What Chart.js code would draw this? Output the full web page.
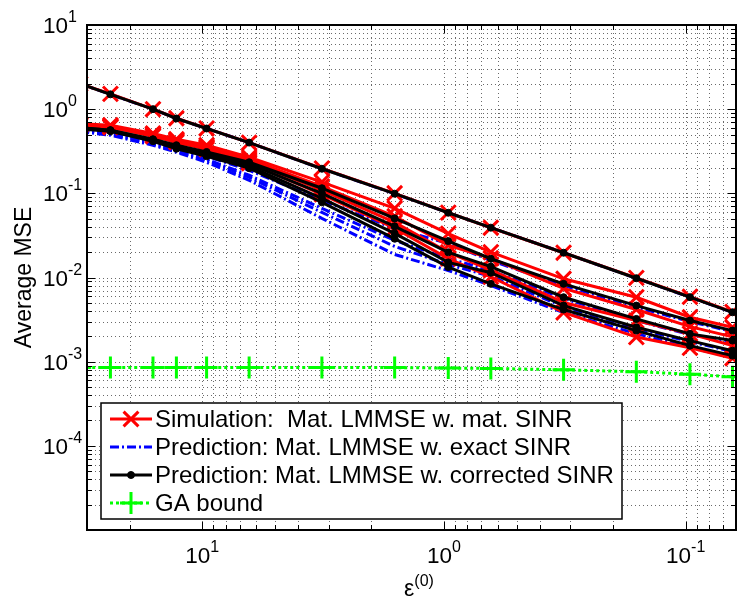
<!DOCTYPE html>
<html>
<head>
<meta charset="utf-8">
<script src="https://cdn.jsdelivr.net/npm/chart.js@4.4.0/dist/chart.umd.min.js"></script>
<style>
  html, body { margin: 0; padding: 0; background: #fff; }
  #wrap { width: 742px; height: 600px; overflow: hidden; }
</style>
</head>
<body>
<div id="wrap"><canvas id="mse-chart" width="750" height="600"></canvas></div>
<script>
// x values (epsilon^(0)), axis runs from large to small; the first one sits just left of the axes
const epsilon0 = [32, 24, 16, 12.8, 9.6, 6.4, 3.2, 1.6, 0.96, 0.64, 0.32, 0.16, 0.096, 0.064];

// Simulation: Mat. LMMSE w. mat. SINR (red)
const simA = [2.0, 1.52, 1.0, 0.78, 0.59, 0.40, 0.198, 0.100, 0.059, 0.039, 0.0197, 0.0099, 0.0059, 0.0039];
const simB = [0.67, 0.645, 0.514, 0.439, 0.373, 0.268, 0.136, 0.0663, 0.0332, 0.0200, 0.00965, 0.00583, 0.00337, 0.00256];
const simC = [0.66, 0.628, 0.504, 0.428, 0.358, 0.254, 0.121, 0.0534, 0.0241, 0.0169, 0.00741, 0.00417, 0.00261, 0.00197];
const simD = [0.65, 0.619, 0.490, 0.416, 0.348, 0.240, 0.109, 0.0451, 0.0199, 0.0122, 0.00505, 0.00308, 0.00215, 0.00155];
const simE = [0.64, 0.611, 0.477, 0.405, 0.334, 0.228, 0.0973, 0.0385, 0.0168, 0.0102, 0.00385, 0.00196, 0.00146, 0.00110];

// Prediction: Mat. LMMSE w. exact SINR (blue)
const exactA = [2.0, 1.5, 1.0, 0.775, 0.589, 0.401, 0.196, 0.099, 0.0588, 0.0391, 0.0197, 0.0098, 0.00584, 0.00386];
const exactB = [0.57, 0.532, 0.405, 0.343, 0.276, 0.188, 0.0825, 0.0383, 0.0254, 0.0159, 0.00803, 0.00443, 0.00299, 0.00228];
const exactC = [0.56, 0.518, 0.394, 0.325, 0.254, 0.164, 0.0663, 0.0276, 0.0168, 0.0121, 0.00562, 0.00308, 0.00210, 0.00173];
const exactD = [0.55, 0.504, 0.383, 0.316, 0.247, 0.155, 0.0594, 0.0234, 0.0143, 0.0103, 0.00452, 0.00247, 0.00173, 0.00132];
const exactE = [0.54, 0.490, 0.373, 0.308, 0.234, 0.143, 0.0504, 0.0188, 0.0121, 0.00803, 0.00383, 0.00215, 0.00147, 0.00112];

// Prediction: Mat. LMMSE w. corrected SINR (black)
const corrA = [2.0, 1.5, 1.0, 0.775, 0.589, 0.401, 0.196, 0.099, 0.0588, 0.0391, 0.0197, 0.0098, 0.00584, 0.00386];
const corrB = [0.60, 0.562, 0.439, 0.373, 0.310, 0.234, 0.115, 0.0504, 0.0271, 0.0167, 0.00841, 0.00464, 0.00308, 0.00234];
const corrC = [0.60, 0.562, 0.434, 0.363, 0.300, 0.222, 0.100, 0.0405, 0.0199, 0.0135, 0.00583, 0.00322, 0.00214, 0.00178];
const corrD = [0.59, 0.555, 0.428, 0.353, 0.287, 0.210, 0.0872, 0.0334, 0.0151, 0.0114, 0.00464, 0.00256, 0.00178, 0.00135];
const corrE = [0.58, 0.547, 0.416, 0.339, 0.276, 0.199, 0.0781, 0.0289, 0.0133, 0.00841, 0.00416, 0.00234, 0.00155, 0.00118];

// GA bound (green)
const gaBound = [8.5e-4, 8.5e-4, 8.5e-4, 8.5e-4, 8.5e-4, 8.5e-4, 8.5e-4, 8.5e-4, 8.4e-4, 8.3e-4, 8.0e-4, 7.6e-4, 7.1e-4, 6.6e-4];

const xTickExponents = [1, 0, -1];
const yTickExponents = [1, 0, -1, -2, -3, -4];
const legendLabels = [
    'Simulation:  Mat. LMMSE w. mat. SINR',
    'Prediction: Mat. LMMSE w. exact SINR',
    'Prediction: Mat. LMMSE w. corrected SINR',
    'GA bound'
];

const FONT = '"Liberation Sans", Arial, Helvetica, sans-serif';
const RED = 'rgb(255, 0, 0)';
const BLUE = 'rgb(0, 0, 255)';
const GREEN = 'rgb(0, 255, 0)';

const toPoints = vals => vals.map((v, i) => ({ x: epsilon0[i], y: v }));

const simStyle = {
    borderColor: RED, borderWidth: 3, pointStyle: 'crossRot', pointRadius: 10.5,
    pointBorderWidth: 3, pointBorderColor: RED, pointBackgroundColor: RED, order: 1
};
const exactStyle = {
    borderColor: BLUE, borderWidth: 3, borderDash: [9, 3, 2, 3], pointRadius: 0, order: 2
};
const corrStyle = {
    borderColor: '#000', borderWidth: 3, pointStyle: 'circle', pointRadius: 3.5,
    pointBorderWidth: 1, pointBorderColor: '#000', pointBackgroundColor: '#000', order: 0
};
const gaStyle = {
    borderColor: GREEN, borderWidth: 3, borderDash: [3, 3], pointStyle: 'cross', pointRadius: 11,
    pointBorderWidth: 3, pointBorderColor: GREEN, order: 3
};

const datasets = [];
[exactA, exactB, exactC, exactD, exactE].forEach(d => datasets.push({ data: toPoints(d), clip: 0, ...exactStyle }));
[simA, simB, simC, simD, simE].forEach(d => datasets.push({ data: toPoints(d), clip: 0, ...simStyle }));
[corrA, corrB, corrC, corrD, corrE].forEach(d => datasets.push({ data: toPoints(d), clip: 0, ...corrStyle }));
datasets.push({ data: toPoints(gaBound), clip: 0, ...gaStyle });

function logSteps(min, max) {
    const out = [];
    for (let e = Math.floor(Math.log10(min)); e <= Math.ceil(Math.log10(max)); e++) {
        for (let k = 1; k <= 9; k++) {
            const v = k * Math.pow(10, e);
            if (v >= min * 0.9999 && v <= max * 1.0001) out.push({ v, major: k === 1 });
        }
    }
    return out;
}

function drawPower(ctx, exp, x, y, align) {
    ctx.font = '22.5px ' + FONT;
    const wBase = ctx.measureText('10').width;
    ctx.font = '16px ' + FONT;
    const expText = String(exp);
    const wExp = ctx.measureText(expText).width;
    let x0 = x;
    if (align === 'center') x0 = x - (wBase + wExp) / 2;
    ctx.textAlign = 'left';
    ctx.textBaseline = 'alphabetic';
    ctx.fillStyle = '#000';
    ctx.font = '22.5px ' + FONT;
    ctx.fillText('10', x0, y);
    ctx.font = '16px ' + FONT;
    ctx.fillText(expText, x0 + wBase, y - 11);
}

const matlabAxes = {
    id: 'matlabAxes',
    beforeDatasetsDraw(chart) {
        const { ctx, chartArea: a, scales: { x, y } } = chart;
        ctx.save();
        ctx.strokeStyle = '#6a6a6a';
        ctx.lineWidth = 1;
        ctx.setLineDash([1, 3]);
        logSteps(x.min, x.max).forEach(t => {
            const px = Math.round(x.getPixelForValue(t.v)) + 0.5;
            ctx.beginPath(); ctx.moveTo(px, a.top); ctx.lineTo(px, a.bottom); ctx.stroke();
        });
        logSteps(y.min, y.max).forEach(t => {
            const py = Math.round(y.getPixelForValue(t.v)) + 0.5;
            ctx.beginPath(); ctx.moveTo(a.left, py); ctx.lineTo(a.right, py); ctx.stroke();
        });
        ctx.restore();
    },
    afterDatasetsDraw(chart) {
        const { ctx, chartArea: a, scales: { x, y } } = chart;
        ctx.save();
        ctx.strokeStyle = '#000';
        ctx.lineWidth = 1;
        logSteps(x.min, x.max).forEach(t => {
            const px = Math.round(x.getPixelForValue(t.v)) + 0.5;
            const len = t.major ? 8 : 5;
            ctx.beginPath();
            ctx.moveTo(px, a.bottom); ctx.lineTo(px, a.bottom - len);
            ctx.moveTo(px, a.top); ctx.lineTo(px, a.top + len);
            ctx.stroke();
        });
        logSteps(y.min, y.max).forEach(t => {
            const py = Math.round(y.getPixelForValue(t.v)) + 0.5;
            const len = t.major ? 8 : 5;
            ctx.beginPath();
            ctx.moveTo(a.left, py); ctx.lineTo(a.left + len, py);
            ctx.moveTo(a.right, py); ctx.lineTo(a.right - len, py);
            ctx.stroke();
        });
        ctx.lineWidth = 2;
        ctx.strokeRect(a.left, a.top, a.right - a.left, a.bottom - a.top);

        xTickExponents.forEach(e => drawPower(ctx, e, x.getPixelForValue(Math.pow(10, e)), 563, 'center'));
        yTickExponents.forEach(e => drawPower(ctx, e, 43, y.getPixelForValue(Math.pow(10, e)) + 8, 'left'));

        // axis titles
        ctx.fillStyle = '#000';
        ctx.textBaseline = 'alphabetic';
        ctx.font = '23px ' + FONT;
        const wEps = ctx.measureText('\u03b5').width;
        ctx.font = '16px ' + FONT;
        const wSup = ctx.measureText('(0)').width;
        const ex = 419 - (wEps + wSup) / 2;
        ctx.textAlign = 'left';
        ctx.font = '23px ' + FONT;
        ctx.fillText('\u03b5', ex, 596);
        ctx.font = '16px ' + FONT;
        ctx.fillText('(0)', ex + wEps, 586);

        ctx.save();
        ctx.translate(31, (a.top + a.bottom) / 2);
        ctx.rotate(-Math.PI / 2);
        ctx.textAlign = 'center';
        ctx.font = '23px ' + FONT;
        ctx.fillText('Average MSE', 0, 0);
        ctx.restore();
        ctx.restore();
    },
    afterDraw(chart) {
        const { ctx } = chart;
        const box = { left: 101, top: 403, width: 521, height: 116 };
        const rows = [
            { style: simStyle, y: 419 },
            { style: exactStyle, y: 447 },
            { style: corrStyle, y: 475 },
            { style: gaStyle, y: 503 }
        ];
        ctx.save();
        ctx.fillStyle = '#fff';
        ctx.fillRect(box.left, box.top, box.width, box.height);
        ctx.strokeStyle = '#000';
        ctx.lineWidth = 1.5;
        ctx.strokeRect(box.left, box.top, box.width, box.height);
        rows.forEach((r, i) => {
            const s = r.style;
            ctx.save();
            ctx.strokeStyle = s.borderColor;
            ctx.lineWidth = s.borderWidth;
            ctx.setLineDash(s.borderDash || []);
            ctx.beginPath(); ctx.moveTo(110, r.y); ctx.lineTo(152, r.y); ctx.stroke();
            ctx.setLineDash([]);
            if (s.pointRadius > 0) {
                ctx.strokeStyle = s.pointBorderColor;
                ctx.fillStyle = s.pointBackgroundColor || s.pointBorderColor;
                ctx.lineWidth = s.pointBorderWidth;
                Chart.helpers.drawPoint(ctx, { pointStyle: s.pointStyle, radius: s.pointRadius, rotation: 0, borderWidth: s.pointBorderWidth }, 131, r.y);
            }
            ctx.restore();
            ctx.fillStyle = '#000';
            ctx.font = '24px ' + FONT;
            ctx.textAlign = 'left';
            ctx.textBaseline = 'middle';
            ctx.fillText(legendLabels[i], 155, r.y + 1);
        });
        ctx.restore();
    }
};

const ctx = document.getElementById('mse-chart').getContext('2d');
const mseChart = new Chart(ctx, {
    type: 'line',
    data: { datasets: datasets },
    options: {
        responsive: false,
        animation: false,
        events: [],
        layout: { padding: { left: 87, top: 25, right: 5, bottom: 70 } },
        plugins: { legend: { display: false }, tooltip: { enabled: false } },
        elements: { line: { tension: 0 } },
        scales: {
            x: { type: 'logarithmic', reverse: true, min: 0.0619, max: 30.0, display: false },
            y: { type: 'logarithmic', min: 1e-5, max: 10, display: false }
        }
    },
    plugins: [matlabAxes]
});
</script>
</body>
</html>
